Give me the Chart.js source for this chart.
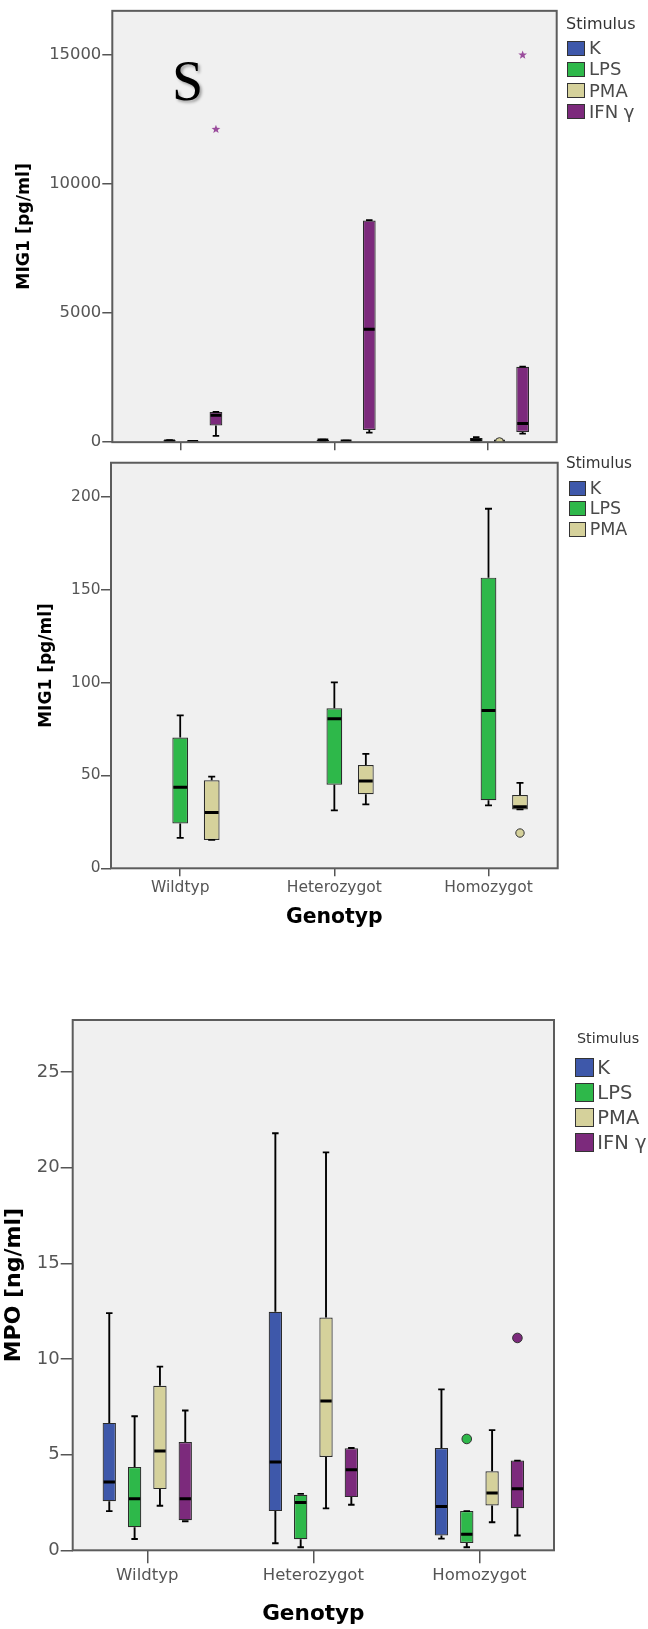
<!DOCTYPE html>
<html>
<head>
<meta charset="utf-8">
<script src="https://cdn.jsdelivr.net/npm/chart.js@4.4.1/dist/chart.umd.min.js"></script>
<style>
  html, body { margin: 0; padding: 0; background: #fff; }
  body { position: relative; width: 648px; height: 1629px; overflow: hidden; font-family: "DejaVu Sans", sans-serif; }
  canvas { position: absolute; left: 0; }
  .legend { position: absolute; }
</style>
</head>
<body>
<canvas id="c1" width="648" height="453" style="top:0px"></canvas>
<canvas id="c2" width="648" height="482" style="top:453px"></canvas>
<canvas id="c3" width="648" height="629" style="top:1000px"></canvas>
<div id="leg1" class="legend"></div>
<div id="leg2" class="legend"></div>
<div id="leg3" class="legend"></div>
<script>
// ---------------- data ----------------
const categories = ['Wildtyp', 'Heterozygot', 'Homozygot'];
const stimuli = ['K', 'LPS', 'PMA', 'IFN γ'];
const stimulusColors = ['#3e58aa', '#2eb84a', '#d5d19b', '#7c2a7c'];

// five-number summaries per genotype: [min, q1, median, q3, max]
const mig1_K   = [null, null, null];
const mig1_LPS = [[16.4, 24.2, 43.7, 70.5, 82.4], [31.2, 45.0, 80.6, 86.2, 100.2], [33.9, 36.7, 85.0, 156.6, 193.7]];
const mig1_PMA = [[15.3, 15.3, 30.0, 47.4, 49.4], [34.4, 39.9, 47.1, 55.6, 61.7], [31.7, 31.7, 33.2, 39.5, 46.0]];
const mig1_IFN = [[244, 647, 1043, 1169, 1169], [369, 472, 4368, 8580, 8600], [331, 396, 724, 2921, 2921]];
const mig1_outliers_PMA = [[], [], [19]];
const mig1_extremes_IFN = [[12110], [], [14990]];

const mpo_K   = [[2.05, 2.57, 3.57, 6.66, 12.4], [0.37, 2.05, 4.62, 12.47, 21.8], [0.61, 0.77, 2.29, 5.35, 8.41]];
const mpo_LPS = [[0.59, 1.21, 2.69, 4.35, 7.01], [0.16, 0.58, 2.50, 2.90, 2.95], [0.16, 0.38, 0.84, 2.05, 2.05]];
const mpo_PMA = [[2.33, 3.20, 5.19, 8.60, 9.60], [2.19, 4.88, 7.80, 12.17, 20.8], [1.47, 2.34, 2.99, 4.13, 6.28]];
const mpo_IFN = [[1.52, 1.57, 2.69, 5.66, 7.31], [2.38, 2.78, 4.21, 5.33, 5.35], [0.77, 2.20, 3.22, 4.69, 4.69]];
const mpo_outliers_LPS = [[], [], [5.82]];
const mpo_outliers_IFN = [[], [], [11.1]];

const mig1AllTicks = [0, 5000, 10000, 15000];
const mig1ZoomTicks = [0, 50, 100, 150, 200];
const mpoTicks = [0, 5, 10, 15, 20, 25];

// ---------------- helpers ----------------
Chart.defaults.font.family = '"DejaVu Sans", sans-serif';
Chart.defaults.color = '#555';
Chart.defaults.animation = false;

function starPath(ctx, x, y, R, r) {
  ctx.beginPath();
  for (let k = 0; k < 10; k++) {
    const a = -Math.PI / 2 + k * Math.PI / 5;
    const rad = k % 2 ? r : R;
    ctx.lineTo(x + rad * Math.cos(a), y + rad * Math.sin(a));
  }
  ctx.closePath();
}

const frame = {
  id: 'frame',
  beforeDraw(chart) {
    const {ctx, chartArea: a} = chart;
    ctx.save();
    ctx.fillStyle = '#f0f0f0';
    ctx.fillRect(a.left, a.top, a.right - a.left, a.bottom - a.top);
    ctx.restore();
  },
  afterDraw(chart) {
    const {ctx, chartArea: a} = chart;
    ctx.save();
    ctx.strokeStyle = '#5c5c5c';
    ctx.lineWidth = 2;
    ctx.strokeRect(a.left, a.top, a.right - a.left, a.bottom - a.top);
    ctx.restore();
  }
};

const boxes = {
  id: 'boxes',
  afterDatasetsDraw(chart, args, o) {
    const {ctx, chartArea: a} = chart;
    const ys = chart.scales.y;
    ctx.save();
    ctx.beginPath();
    ctx.rect(a.left, a.top, a.right - a.left, a.bottom - a.top);
    ctx.clip();
    chart.data.datasets.forEach((ds, di) => {
      const meta = chart.getDatasetMeta(di);
      meta.data.forEach((el, j) => {
        const d = ds.data[j];
        const s = d.stats;
        const x = el.x, w = el.width;
        const p = v => ys.getPixelForValue(v);
        ctx.strokeStyle = '#000';
        ctx.lineWidth = o.whisker;
        ctx.beginPath();
        ctx.moveTo(x, p(s[3])); ctx.lineTo(x, p(s[4]));
        ctx.moveTo(x - o.cap / 2, p(s[4])); ctx.lineTo(x + o.cap / 2, p(s[4]));
        ctx.moveTo(x, p(s[1])); ctx.lineTo(x, p(s[0]));
        ctx.moveTo(x - o.cap / 2, p(s[0])); ctx.lineTo(x + o.cap / 2, p(s[0]));
        ctx.stroke();
        // redraw box outline on top of whisker ends
        ctx.lineWidth = o.median;
        ctx.beginPath();
        ctx.moveTo(x - w / 2 + 1, p(s[2])); ctx.lineTo(x + w / 2 - 1, p(s[2]));
        ctx.stroke();
      });
      // outliers / extremes, positioned at each bar's group slot
      const slotX = (i) => {
        const el = meta.data.find((e, j) => ds.data[j].x === i);
        return el ? el.x : null;
      };
      (ds.outliers || []).forEach((vals, i) => {
        vals.forEach(v => {
          const x = slotX(i);
          ctx.beginPath();
          ctx.arc(x, ys.getPixelForValue(v), o.radius, 0, Math.PI * 2);
          ctx.fillStyle = ds.backgroundColor;
          ctx.fill();
          ctx.lineWidth = 1;
          ctx.strokeStyle = '#333';
          ctx.stroke();
        });
      });
      (ds.extremes || []).forEach((vals, i) => {
        vals.forEach(v => {
          const x = slotX(i);
          starPath(ctx, x, ys.getPixelForValue(v), 4.6, 1.9);
          ctx.fillStyle = '#9a4c9c';
          ctx.fill();
        });
      });
    });
    ctx.restore();
  }
};

const htmlLegend = {
  id: 'htmlLegend',
  afterUpdate(chart, args, o) {
    const box = document.getElementById(o.id);
    box.innerHTML = '';
    box.style.left = o.left + 'px';
    box.style.top = (o.firstCenter - o.pitch / 2 - o.titleH) + 'px';
    const t = document.createElement('div');
    t.textContent = o.title;
    t.style.cssText = `font-size:${o.titleSize}px;color:#333;height:${o.titleH}px;line-height:${2 * (o.titleCenter - (o.firstCenter - o.pitch / 2 - o.titleH))}px;margin-left:${o.titleDx}px;white-space:nowrap;`;
    box.appendChild(t);
    chart.data.datasets.forEach(ds => {
      const row = document.createElement('div');
      row.style.cssText = `display:flex;align-items:center;height:${o.pitch}px;`;
      const sw = document.createElement('span');
      sw.style.cssText = `display:inline-block;box-sizing:border-box;width:${o.bw}px;height:${o.bh}px;background:${ds.backgroundColor};border:1.5px solid #333;`;
      const lb = document.createElement('span');
      lb.textContent = ds.label;
      lb.style.cssText = `font-size:${o.size}px;line-height:1;color:#4a4a4a;margin-left:${o.gap}px;white-space:nowrap;`;
      row.append(sw, lb);
      box.appendChild(row);
    });
  }
};

const letter = {
  id: 'letter',
  afterDraw(chart, args, o) {
    if (!o.text) return;
    const {ctx} = chart;
    ctx.save();
    ctx.font = `${o.size}px "Liberation Serif", serif`;
    ctx.fillStyle = '#000';
    ctx.shadowColor = 'rgba(0,0,0,0.35)';
    ctx.shadowBlur = 3;
    ctx.shadowOffsetX = 2;
    ctx.shadowOffsetY = 2;
    ctx.fillText(o.text, o.x, o.y);
    ctx.restore();
  }
};

function makeDatasets(seriesList, names, colors, catPct, barPct) {
  return seriesList.map((s, k) => ({
    label: names[k],
    data: s.summary.map((v, i) => v ? {x: i, y: [v[1], v[3]], stats: v} : null).filter(Boolean),
    backgroundColor: colors[k],
    borderColor: '#2b2b2b',
    borderWidth: 1.2,
    borderSkipped: false,
    categoryPercentage: catPct,
    barPercentage: barPct,
    outliers: s.outliers || [],
    extremes: s.extremes || []
  }));
}

function makeChart(id, c) {
  return new Chart(document.getElementById(id), {
    type: 'bar',
    data: { datasets: makeDatasets(c.series, c.names, c.colors, c.catPct, c.barPct) },
    plugins: [frame, boxes, htmlLegend, letter],
    options: {
      responsive: false,
      layout: { padding: c.padding },
      plugins: {
        legend: { display: false },
        tooltip: { enabled: false },
        boxes: c.box,
        htmlLegend: c.legend,
        letter: c.letter || {}
      },
      scales: {
        x: {
          type: 'linear',
          min: -0.449, max: 2.449,
          offset: false,
          afterBuildTicks: s => { s.ticks = categories.map((_, i) => ({value: i})); },
          afterFit: s => { s.height = c.xHeight; },
          ticks: {
            display: c.xLabels,
            autoSkip: false, maxRotation: 0,
            callback: v => categories[v],
            font: { size: c.xTickSize },
            color: '#555',
            padding: c.xTickPad
          },
          grid: { drawOnChartArea: false, drawTicks: true, tickLength: c.xTickLen, color: '#555', lineWidth: 1.5, offset: false },
          border: { display: false },
          title: {
            display: c.xLabels,
            text: 'Genotyp',
            color: '#000',
            font: { size: c.xTitleSize, weight: 'bold' },
            padding: { top: 0, bottom: c.xTitlePad }
          }
        },
        y: {
          min: 0, max: c.yMax,
          afterBuildTicks: s => { s.ticks = c.yTicks.map(v => ({value: v})); },
          afterFit: s => { s.width = c.yWidth; },
          ticks: {
            callback: v => String(v),
            font: { size: c.yTickSize },
            color: '#555',
            padding: c.yTickPad
          },
          grid: { drawOnChartArea: false, drawTicks: true, tickLength: c.yTickLen, color: '#555', lineWidth: 1.5 },
          border: { display: false },
          title: {
            display: true,
            text: c.yTitle,
            color: '#000',
            font: { size: c.yTitleSize, weight: 'bold' },
            padding: { top: c.yTitlePad, bottom: 0 }
          }
        }
      }
    }
  });
}

// ---------- panel 1: MIG1 all stimuli ----------
makeChart('c1', {
  series: [
    {summary: mig1_K},
    {summary: mig1_LPS},
    {summary: mig1_PMA, outliers: mig1_outliers_PMA},
    {summary: mig1_IFN, extremes: mig1_extremes_IFN}
  ],
  names: stimuli, colors: stimulusColors,
  catPct: 0.605, barPct: 0.55,
  padding: { top: 6, right: 91.3, left: 0, bottom: 0 },
  yMax: 16700, yTicks: mig1AllTicks,
  yWidth: 112.3, yTickSize: 16.4, yTickPad: 1, yTickLen: 10,
  yTitle: 'MIG1 [pg/ml]', yTitleSize: 17.3, yTitlePad: 14.4,
  xHeight: 8.6, xLabels: false, xTickLen: 8, xTickSize: 15.5, xTickPad: 2, xTitleSize: 20.4, xTitlePad: 4,
  box: { whisker: 1.8, cap: 6.5, median: 3, radius: 4 },
  legend: { id: 'leg1', title: 'Stimulus', left: 567, titleDx: -1, titleCenter: 23.3, firstCenter: 48.2, pitch: 21.2, titleH: 26, bw: 18, bh: 15, gap: 4, titleSize: 16, size: 18 },
  letter: { text: 'S', x: 172, y: 100, size: 56 }
});

// ---------- panel 2: MIG1 without IFN γ ----------
makeChart('c2', {
  series: [
    {summary: mig1_K},
    {summary: mig1_LPS},
    {summary: mig1_PMA, outliers: mig1_outliers_PMA}
  ],
  names: stimuli.slice(0, 3), colors: stimulusColors.slice(0, 3),
  catPct: 0.613, barPct: 0.5,
  padding: { top: 2, right: 90.3, left: 0, bottom: 0 },
  yMax: 218.5, yTicks: mig1ZoomTicks,
  yWidth: 111, yTickSize: 15.4, yTickPad: 0.5, yTickLen: 10,
  yTitle: 'MIG1 [pg/ml]', yTitleSize: 17, yTitlePad: 36.8,
  xHeight: 66.7, xLabels: true, xTickLen: 8, xTickSize: 15.5, xTickPad: 2, xTitleSize: 20.4, xTitlePad: 4.8,
  box: { whisker: 1.8, cap: 7, median: 3, radius: 4.2 },
  legend: { id: 'leg2', title: 'Stimulus', left: 568.7, titleDx: -2.7, titleCenter: 464, firstCenter: 488.3, pitch: 20.5, titleH: 24, bw: 17, bh: 15, gap: 4, titleSize: 15.2, size: 17.5 }
});

// ---------- panel 3: MPO ----------
makeChart('c3', {
  series: [
    {summary: mpo_K},
    {summary: mpo_LPS, outliers: mpo_outliers_LPS},
    {summary: mpo_PMA},
    {summary: mpo_IFN, outliers: mpo_outliers_IFN}
  ],
  names: stimuli, colors: stimulusColors,
  catPct: 0.61, barPct: 0.526,
  padding: { top: 20, right: 94, left: 0, bottom: 0 },
  yMax: 27.72, yTicks: mpoTicks,
  yWidth: 72.7, yTickSize: 18, yTickPad: 1, yTickLen: 12,
  yTitle: 'MPO [ng/ml]', yTitleSize: 22, yTitlePad: 0.8,
  xHeight: 78.7, xLabels: true, xTickLen: 13, xTickSize: 16.5, xTickPad: 2.3, xTitleSize: 21.6, xTitlePad: 1.5,
  box: { whisker: 1.9, cap: 6.5, median: 3, radius: 4.8 },
  legend: { id: 'leg3', title: 'Stimulus', left: 575.3, titleDx: 1.7, titleCenter: 1038.5, firstCenter: 1067.5, pitch: 25, titleH: 24, bw: 19, bh: 19, gap: 3, titleSize: 14.3, size: 19.5 }
});
</script>
</body>
</html>
